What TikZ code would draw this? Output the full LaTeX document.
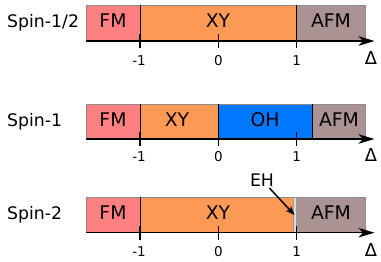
\documentclass[tikz,border=0pt]{standalone}
\usepackage{fontspec}
\setmainfont{DejaVu Sans}
\usetikzlibrary{arrows.meta,calc,positioning}
\definecolor{fmcol}{HTML}{FF8080}
\definecolor{xycol}{HTML}{FF9955}
\definecolor{ohcol}{HTML}{0077FF}
\definecolor{afmcol}{HTML}{AC9393}
\definecolor{ehcol}{HTML}{DADADA}
\tikzset{
  phase/.style={font=\fontsize{18.8}{22}\selectfont, inner sep=0pt, anchor=base},
  spinlab/.style={font=\fontsize{17.3}{20}\selectfont, inner sep=0pt, anchor=base west},
  ticklab/.style={font=\fontsize{13.5}{16}\selectfont, inner sep=0pt, anchor=base},
  deltalab/.style={font=\fontsize{17.8}{20}\selectfont, inner sep=0pt, anchor=base},
  axisline/.style={line width=1.6pt, -{Stealth[length=16pt,width=9.5pt,inset=4.5pt]}},
  tickmark/.style={line width=1.5pt},
  regionline/.style={line width=0.8pt},
  barframe/.style={draw=black!45, line width=0.6pt},
}
\begin{document}
\begin{tikzpicture}[x=1pt, y=-1pt]
    \useasboundingbox (0,0) rectangle (381,262);
    % Spin-1/2 : FM | XY | AFM
    \fill[fmcol] (86,5) rectangle (140,41);
    \fill[xycol] (140,5) rectangle (296.7,41);
    \fill[afmcol] (296.7,5) rectangle (365,41);
    \draw[barframe] (86,41) |- (365,5) -- (365,41);
    \draw[regionline] (140,5) -- (140,41) (296.7,5) -- (296.7,41);
    \coordinate (axAstart) at (86,41);
    \coordinate (axAend) at (374.5,41);
    \draw[axisline] (axAstart) -- (axAend);
    \foreach \x in {140,218.3,296.7}
      \draw[tickmark] (\x,34) -- (\x,48);
    \node[spinlab] (spinhalf) at (7,27.5) {Spin-1/2};
    \node[phase] (fmA) at (113,27.5) {FM};
    \node[phase] (xyA) at (218,27.5) {XY};
    \node[phase] (afmA) at (331,27.5) {AFM};
    \node[ticklab] (mA) at (139,65.5) {-1};
    \node[ticklab] (zA) at (218.3,65.5) {0};
    \node[ticklab] (pA) at (296.7,65.5) {1};
    \node[deltalab] (dA) at (371,65) {Δ};
    % Spin-1 : FM | XY | OH | AFM
    \fill[fmcol] (86,104) rectangle (140,139);
    \fill[xycol] (140,104) rectangle (218.3,139);
    \fill[ohcol] (218.3,104) rectangle (312.3,139);
    \fill[afmcol] (312.3,104) rectangle (365,139);
    \draw[barframe] (86,139) |- (365,104) -- (365,139);
    \draw[regionline] (140,104) -- (140,139) (218.3,104) -- (218.3,139)
      (312.3,104) -- (312.3,139);
    \coordinate (axBstart) at (86,139);
    \coordinate (axBend) at (374.5,139);
    \draw[axisline] (axBstart) -- (axBend);
    \foreach \x in {140,218.3,296.7}
      \draw[tickmark] (\x,132) -- (\x,146);
    \node[spinlab] (spinone) at (7,127) {Spin-1};
    \node[phase] (fmB) at (113,127) {FM};
    \node[phase] (xyB) at (177,127) {XY};
    \node[phase] (ohB) at (265,127) {OH};
    \node[phase] (afmB) at (339,127) {AFM};
    \node[ticklab] (mB) at (139,162) {-1};
    \node[ticklab] (zB) at (218.3,162) {0};
    \node[ticklab] (pB) at (296.7,162) {1};
    \node[deltalab] (dB) at (371,162) {Δ};
    % Spin-2 : FM | XY | EH (thin) | AFM
    \fill[fmcol] (86,197) rectangle (140,232.7);
    \fill[xycol] (140,197) rectangle (293.7,232.7);
    \fill[ehcol] (293.7,197) rectangle (296.7,232.7);
    \fill[afmcol] (296.7,197) rectangle (365,232.7);
    \draw[barframe] (86,232.7) |- (365,197) -- (365,232.7);
    \draw[regionline] (140,197) -- (140,232.7);
    \draw[black!40, line width=0.5pt] (293.7,197) -- (293.7,232.7) (296.7,197) -- (296.7,232.7);
    \coordinate (axCstart) at (86,232.7);
    \coordinate (axCend) at (374.5,232.7);
    \draw[axisline] (axCstart) -- (axCend);
    \foreach \x in {140,218.3,296.7}
      \draw[tickmark] (\x,225.7) -- (\x,239.7);
    \node[spinlab] (spintwo) at (7,220) {Spin-2};
    \node[phase] (fmC) at (113,220) {FM};
    \node[phase] (xyC) at (218,220) {XY};
    \node[phase] (afmC) at (331,220) {AFM};
    \node[ticklab] (mC) at (139,256) {-1};
    \node[ticklab] (zC) at (218.3,256) {0};
    \node[ticklab] (pC) at (296.7,256) {1};
    \node[deltalab] (dC) at (371,256) {Δ};
    % the narrow EH window just below 1
    \node[font=\fontsize{17.3}{20}\selectfont, inner sep=1.5pt] (eh) at (262,180) {EH};
    \coordinate (ehtip) at (294.5,215);
    \draw[line width=1.5pt, -{Stealth[length=9pt,width=7pt,inset=2.5pt]}] (eh) -- (ehtip);
\end{tikzpicture}
\end{document}
